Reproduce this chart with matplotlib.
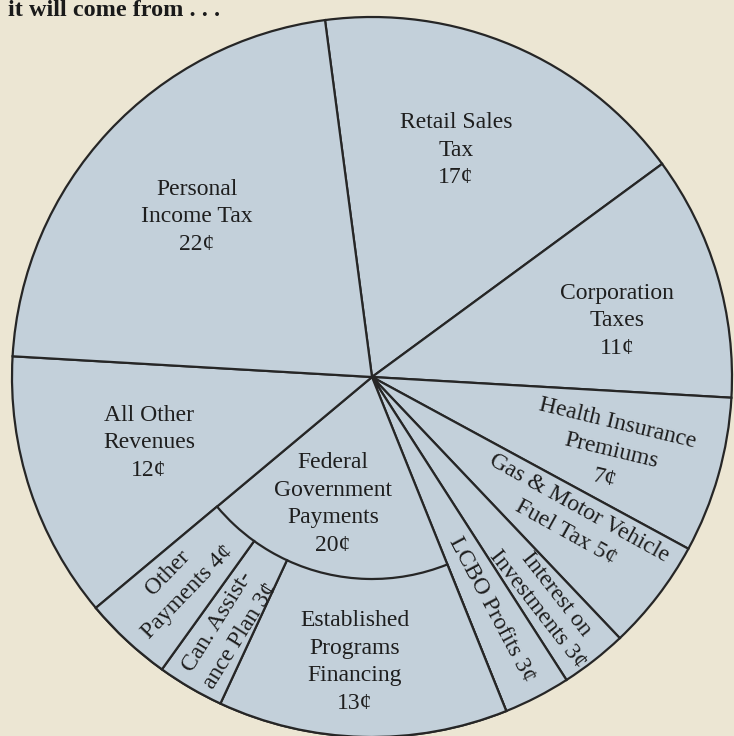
import matplotlib.pyplot as plt

W, H = 734, 736

# revenue shares in cents, clockwise from the top
categories = ["Retail Sales Tax", "Corporation Taxes", "Health Insurance Premiums",
              "Gas & Motor Vehicle Fuel Tax", "Interest on Investments", "LCBO Profits",
              "Federal Government Payments", "All Other Revenues", "Personal Income Tax"]
cents = [17, 11, 7, 5, 3, 3, 20, 12, 22]

# breakdown of the federal payments slice
federal_parts = ["Established Programs Financing", "Can. Assistance Plan", "Other Payments"]
federal_cents = [13, 3, 4]

labels = ["Retail Sales\nTax\n17¢", "Corporation\nTaxes\n11¢",
          "Health Insurance\nPremiums\n7¢", "Gas & Motor Vehicle\nFuel Tax 5¢",
          "Interest on\nInvestments 3¢", "LCBO Profits 3¢",
          "Federal\nGovernment\nPayments\n20¢", "All Other\nRevenues\n12¢",
          "Personal\nIncome Tax\n22¢"]
federal_labels = ["Established\nPrograms\nFinancing\n13¢", "Can. Assist-\nance Plan 3¢",
                  "Other\nPayments 4¢"]

# label placement in pixels (x, y from top), rotation, line spacing
label_pos = [(456, 150, 0, 1.43), (617, 321, 0, 1.43), (611, 451, -13.5, 1.43),
             (572, 520, -29, 1.4), (547, 602, -52, 1.2), (492, 610, -62, 1.43),
             (333, 504, 0, 1.43), (149, 443, 0, 1.43), (197, 217, 0, 1.43)]
federal_pos = [(355, 662, 0, 1.43), (229, 629, 58, 1.3), (178, 582, 46, 1.4)]

FILL = "#c3d0da"
EDGE = "#262626"
BG = "#ece6d3"
CX, CY, R = 372, 377, 360
R_INNER = 202
START = 97.5

fig = plt.figure(figsize=(W / 100, H / 100), dpi=100, facecolor=BG)
ax = fig.add_axes([0, 0, 1, 1])
ax.set_facecolor(BG)

wp = dict(edgecolor=EDGE, linewidth=1.6)
ax.pie(cents, startangle=START, counterclock=False, radius=R,
       center=(CX, H - CY), colors=[FILL] * len(cents), wedgeprops=wp)

# outer ring splitting the federal slice
total = sum(cents)
fed_idx = categories.index("Federal Government Payments")
fed_start = START - 360 * sum(cents[:fed_idx]) / total
ax.pie([c / total for c in federal_cents], startangle=fed_start, counterclock=False,
       normalize=False, radius=R, center=(CX, H - CY), colors=[FILL] * 3,
       wedgeprops=dict(wp, width=R - R_INNER))

ax.set_xlim(0, W)
ax.set_ylim(0, H)
ax.set_aspect("auto")
ax.axis("off")

font = dict(family="Liberation Serif", fontsize=17, color="#1e1e1e",
            ha="center", va="center")
for text, (x, y, rot, ls) in zip(labels + federal_labels, label_pos + federal_pos):
    ax.text(x, H - y, text, rotation=rot, rotation_mode="anchor", linespacing=ls, **font)

ax.text(8, H - 16, "it will come from . . .", family="Liberation Serif",
        fontweight="bold", fontsize=17.5, color="#1a1a1a", ha="left", va="baseline")

fig.savefig("out.png", dpi=100, facecolor=BG)
